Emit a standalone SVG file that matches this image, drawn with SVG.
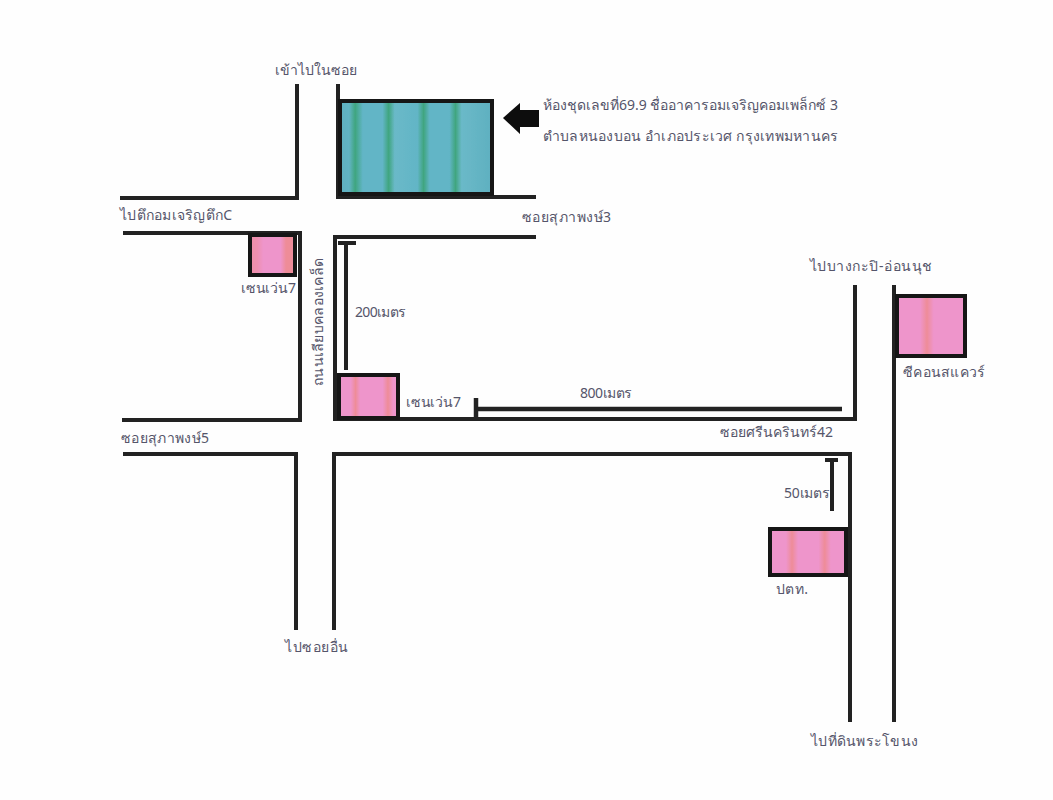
<svg xmlns="http://www.w3.org/2000/svg" width="1053" height="800" viewBox="0 0 1053 800">
<defs>
<filter id="soft" x="-5%" y="-5%" width="110%" height="110%"><feGaussianBlur stdDeviation="0.5"/></filter>
<linearGradient id="teal" x1="0" x2="1" y1="0" y2="0">
<stop offset="0" stop-color="#5fb0c0"/><stop offset="0.06" stop-color="#62b4c4"/><stop offset="0.1" stop-color="#3fa57f"/><stop offset="0.15" stop-color="#62b5c6"/><stop offset="0.28" stop-color="#62b5c6"/><stop offset="0.32" stop-color="#3fa57f"/><stop offset="0.36" stop-color="#6ab9c8"/><stop offset="0.51" stop-color="#62b5c6"/><stop offset="0.55" stop-color="#3fa57f"/><stop offset="0.59" stop-color="#62b5c6"/><stop offset="0.72" stop-color="#62b5c6"/><stop offset="0.76" stop-color="#3fa57f"/><stop offset="0.8" stop-color="#6ab9c8"/><stop offset="1" stop-color="#5fb0c0"/>
</linearGradient>
<linearGradient id="pinkS1" x1="0" x2="1" y1="0" y2="0">
<stop offset="0" stop-color="#ee8fa8"/><stop offset="0.16" stop-color="#ee8fb0"/><stop offset="0.3" stop-color="#ee95cb"/><stop offset="0.68" stop-color="#ee95cb"/><stop offset="0.8" stop-color="#ee8c98"/><stop offset="0.92" stop-color="#ee8c98"/><stop offset="1" stop-color="#ee90b0"/>
</linearGradient>
<linearGradient id="pinkS2" x1="0" x2="1" y1="0" y2="0">
<stop offset="0" stop-color="#ee95cb"/><stop offset="0.2" stop-color="#ee95cb"/><stop offset="0.28" stop-color="#ee8c98"/><stop offset="0.36" stop-color="#ee95cb"/><stop offset="0.74" stop-color="#ee95cb"/><stop offset="0.83" stop-color="#ee8c98"/><stop offset="0.92" stop-color="#ee95cb"/><stop offset="1" stop-color="#ee95cb"/>
</linearGradient>
<linearGradient id="pinkB" x1="0" x2="1" y1="0" y2="0">
<stop offset="0" stop-color="#ee95cb"/><stop offset="0.34" stop-color="#ee95cb"/><stop offset="0.44" stop-color="#ee8c98"/><stop offset="0.54" stop-color="#ee95cb"/><stop offset="1" stop-color="#ee95cb"/>
</linearGradient>
<linearGradient id="pinkC" x1="0" x2="1" y1="0" y2="0">
<stop offset="0" stop-color="#ee95cb"/><stop offset="0.21" stop-color="#ee95cb"/><stop offset="0.29" stop-color="#ee8c98"/><stop offset="0.37" stop-color="#ee95cb"/><stop offset="0.64" stop-color="#ee95cb"/><stop offset="0.72" stop-color="#ee8c98"/><stop offset="0.8" stop-color="#ee95cb"/><stop offset="1" stop-color="#ee95cb"/>
</linearGradient>
</defs>
<style>
text{font-family:"Noto Sans","Liberation Sans",sans-serif;font-size:14px;fill:#55556a}
.r{fill:none;stroke:#242424;stroke-width:4;stroke-linecap:butt;stroke-linejoin:miter}
.b{stroke:#141414;stroke-width:4}
</style>
<rect width="1053" height="800" fill="#fefefe"/>
<g filter="url(#soft)">
<g id="connectors">
<path class="r" d="M120 198H297V84"/>
<path class="r" d="M338 84V197H536"/>
<path class="r" d="M123 233H300V420H122"/>
<path class="r" d="M536 237H335V419H855V285"/>
<path class="r" d="M123 454H296V630"/>
<path class="r" d="M334 630V454H850V722"/>
<path class="r" d="M894 285V722"/>
<path class="r" d="M346 370V243M338 243H356"/>
<path class="r" d="M476 398V418M476 409H842" style="stroke-width:4.5"/>
<path class="r" d="M832 511V460M825 460H838"/>
</g>
<g id="building-main"><rect class="b" x="340" y="101" width="152" height="93" fill="url(#teal)"/></g>
<path id="arrow" d="M503 118L520 103V110H539V127H520V134Z" fill="#0c0c0c"/>
<g id="seven-1"><rect class="b" x="250" y="235" width="45" height="40" fill="url(#pinkS1)"/></g>
<g id="seven-2"><rect class="b" x="339" y="375" width="59" height="43" fill="url(#pinkS2)"/></g>
<g id="seacon"><rect class="b" x="897" y="296" width="68" height="60" fill="url(#pinkB)"/></g>
<g id="ptt"><rect class="b" x="770" y="529" width="76" height="46" fill="url(#pinkC)"/></g>
</g>
<g id="labels">
<text x="275" y="75">เข้าไปในซอย</text>
<text x="543" y="110" textLength="295">ห้องชุดเลขที่69.9 ชื่ออาคารอมเจริญคอมเพล็กซ์ 3</text>
<text x="543" y="141" textLength="295">ตำบลหนองบอน อำเภอประเวศ กรุงเทพมหานคร</text>
<text x="120" y="220" textLength="112">ไปตึกอมเจริญตึกC</text>
<text x="522" y="222" textLength="89">ซอยสุภาพงษ์3</text>
<text x="241" y="293" textLength="55">เซนเว่น7</text>
<text x="355" y="317" textLength="51">200เมตร</text>
<text transform="translate(323 386) rotate(-90)" textLength="128">ถนนเลียบคลองเคล็ด</text>
<text x="406" y="407" textLength="55">เซนเว่น7</text>
<text x="580" y="398" textLength="52">800เมตร</text>
<text x="121" y="443" textLength="88">ซอยสุภาพงษ์5</text>
<text x="720" y="437" textLength="113">ซอยศรีนครินทร์42</text>
<text x="810" y="271" textLength="122">ไปบางกะปิ-อ่อนนุช</text>
<text x="903" y="377" textLength="82">ซีคอนสแควร์</text>
<text x="784" y="498" textLength="46">50เมตร</text>
<text x="776" y="594" textLength="32">ปตท.</text>
<text x="285" y="652" textLength="63">ไปซอยอื่น</text>
<text x="811" y="746" textLength="107">ไปที่ดินพระโขนง</text>
</g>
</svg>
